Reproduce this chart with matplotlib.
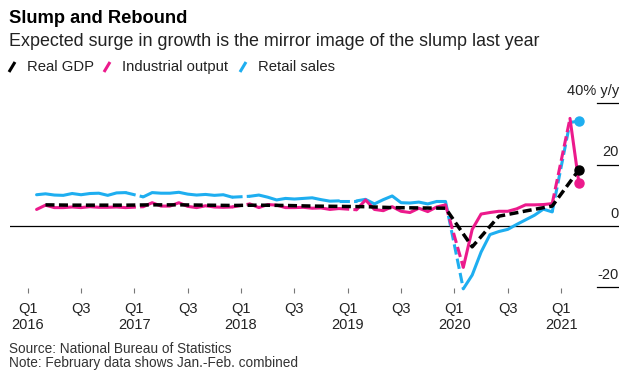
import numpy as np
import matplotlib
matplotlib.use("Agg")
import matplotlib.pyplot as plt
from matplotlib.lines import Line2D
from matplotlib.transforms import blended_transform_factory

plt.rcParams["font.family"] = ["Liberation Sans", "DejaVu Sans"]
plt.rcParams["lines.scale_dashes"] = False

# month index: 0 = Jan 2016. Jan-Feb combined readings sit at February.
years = [2016, 2017, 2018, 2019, 2020, 2021]

retail_by_year = {
    2016: [10.2, 10.5, 10.1, 10.0, 10.6, 10.2, 10.6, 10.7, 10.0, 10.8, 10.9],
    2017: [9.5, 10.9, 10.7, 10.7, 11.0, 10.4, 10.1, 10.3, 10.0, 10.2, 9.4],
    2018: [9.7, 10.1, 9.4, 8.5, 9.0, 8.8, 9.0, 9.2, 8.6, 8.1, 8.2],
    2019: [8.2, 8.7, 7.2, 8.6, 9.8, 7.6, 7.5, 7.8, 7.2, 8.0, 8.0],
    2020: [-20.5, -16.0, -8.5, -2.8, -1.8, -1.1, 0.5, 2.0, 3.5, 5.5, 4.6],
    2021: [33.8, 34.2],
}
industrial_by_year = {
    2016: [5.4, 6.8, 6.0, 6.0, 6.2, 6.0, 6.3, 6.1, 6.1, 6.2, 6.0],
    2017: [6.3, 7.6, 6.5, 6.5, 7.6, 6.4, 6.0, 6.6, 6.2, 6.1, 6.2],
    2018: [7.2, 6.0, 7.0, 6.8, 6.0, 6.0, 6.1, 5.8, 5.9, 5.4, 5.7],
    2019: [5.3, 8.5, 5.4, 5.0, 6.3, 4.8, 4.4, 5.8, 4.7, 6.2, 6.9],
    2020: [-13.5, -1.1, 3.9, 4.4, 4.8, 4.8, 5.6, 6.9, 6.9, 7.0, 7.3],
    2021: [35.1, 14.1],
}
gdp_quarters = ["2016Q1", "2016Q2", "2016Q3", "2016Q4",
                "2017Q1", "2017Q2", "2017Q3", "2017Q4",
                "2018Q1", "2018Q2", "2018Q3", "2018Q4",
                "2019Q1", "2019Q2", "2019Q3", "2019Q4",
                "2020Q1", "2020Q2", "2020Q3", "2020Q4",
                "2021Q1"]
gdp = [6.9, 6.8, 6.8, 6.8,
       6.9, 6.9, 6.8, 6.7,
       6.8, 6.7, 6.5, 6.4,
       6.3, 6.0, 5.9, 5.8,
       -6.8, 3.2, 4.9, 6.5,
       18.3]

xtick_months = list(range(0, 61, 6))
xtick_labels = ["Q1\n2016", "Q3", "Q1\n2017", "Q3", "Q1\n2018", "Q3",
                "Q1\n2019", "Q3", "Q1\n2020", "Q3", "Q1\n2021"]
ytick_values = [40, 20, 0, -20]
ytick_labels = ["40% y/y", "20", "0", "-20"]

BLACK = "#000000"
PINK = "#ec1a8c"
BLUE = "#1eaef0"


def monthly_segments(by_year):
    """Solid runs Feb-Dec per year, plus the Dec -> Feb connectors."""
    runs = []
    for y in years:
        vals = by_year[y]
        start = (y - 2016) * 12 + 1
        runs.append((np.arange(start, start + len(vals)), np.array(vals)))
    links = []
    for prev, cur in zip(runs[:-1], runs[1:]):
        links.append(([prev[0][-1], cur[0][0]], [prev[1][-1], cur[1][0]]))
    return runs, links


def quarter_to_month(q):
    return (int(q[:4]) - 2016) * 12 + int(q[-1]) * 3 - 1


W, H = 633, 376
fig = plt.figure(figsize=(W / 100, H / 100), dpi=100)

px_left, px_right, px_top, px_bottom = 10, 619, 97, 293
ax = fig.add_axes([px_left / W, 1 - px_bottom / H,
                   (px_right - px_left) / W, (px_bottom - px_top) / H])

month_px = 8.89
x0_px = 27.7
ax.set_xlim((px_left - x0_px) / month_px, (px_right - x0_px) / month_px)
unit_px = 3.065
zero_px = 226
ax.set_ylim((zero_px - px_bottom) / unit_px, (zero_px - px_top) / unit_px)

for by_year, color, z in [(retail_by_year, BLUE, 3), (industrial_by_year, PINK, 4)]:
    runs, links = monthly_segments(by_year)
    for xs, ys in runs:
        ax.plot(xs, ys, color=color, lw=2.2, solid_capstyle="round",
                solid_joinstyle="round", zorder=z)
    for xs, ys in links:
        ax.plot(xs, ys, color=color, lw=2.2, dashes=(7.5, 3),
                dash_capstyle="butt", zorder=z)
    ax.plot([runs[-1][0][-1]], [runs[-1][1][-1]], "o", color=color,
            ms=6.5, zorder=z + 2)

gx = [quarter_to_month(q) for q in gdp_quarters]
ax.plot(gx, gdp, color=BLACK, lw=2.5, dashes=(6.5, 3.2), zorder=5)
ax.plot([gx[-1]], [gdp[-1]], "o", color=BLACK, ms=6.5, zorder=7)

# y axis: zero line + short right-hand tick lines with labels above them
ax.axhline(0, color=BLACK, lw=0.9, zorder=2)
tick_start = (597 - px_left) / (px_right - px_left)
trans = blended_transform_factory(ax.transAxes, ax.transData)
for v, lab in zip(ytick_values, ytick_labels):
    if v != 0:
        ax.axhline(v, xmin=tick_start, xmax=1.0, color=BLACK, lw=0.9)
    ax.annotate(lab, xy=(1.0, v), xycoords=trans, xytext=(0, 6),
                textcoords="offset points", ha="right", va="baseline",
                fontsize=10.5, color="#222222", annotation_clip=False)

for s in ax.spines.values():
    s.set_visible(False)
ax.set_yticks([])
ax.set_xticks(xtick_months)
ax.set_xticklabels(xtick_labels, fontsize=10.5, color="#222222")
ax.tick_params(axis="x", direction="in", length=3.6, width=0.8,
               color="#777777", pad=6.5)

# header
fig.text(9 / W, 1 - 10 / H, "Slump and Rebound", fontsize=13.2,
         fontweight="bold", va="top", ha="left")
fig.text(9 / W, 1 - 33 / H,
         "Expected surge in growth is the mirror image of the slump last year",
         fontsize=12.9, va="top", ha="left", color="#222222")

legend_items = [("Real GDP", BLACK, 9), ("Industrial output", PINK, 104),
                ("Retail sales", BLUE, 240)]
for label, color, xpx in legend_items:
    fig.add_artist(Line2D([xpx / W, (xpx + 6) / W],
                          [1 - 72 / H, 1 - 62 / H],
                          color=color, lw=2.2, solid_capstyle="butt"))
    fig.text((xpx + 18) / W, 1 - 67 / H, label, fontsize=10.7,
             va="center", ha="left", color="#222222")

fig.text(9 / W, 1 - 349 / H, "Source: National Bureau of Statistics",
         fontsize=9.8, va="center", ha="left", color="#333333")
fig.text(9 / W, 1 - 363 / H, "Note: February data shows Jan.-Feb. combined",
         fontsize=9.8, va="center", ha="left", color="#333333")

fig.savefig("out.png", dpi=100)
